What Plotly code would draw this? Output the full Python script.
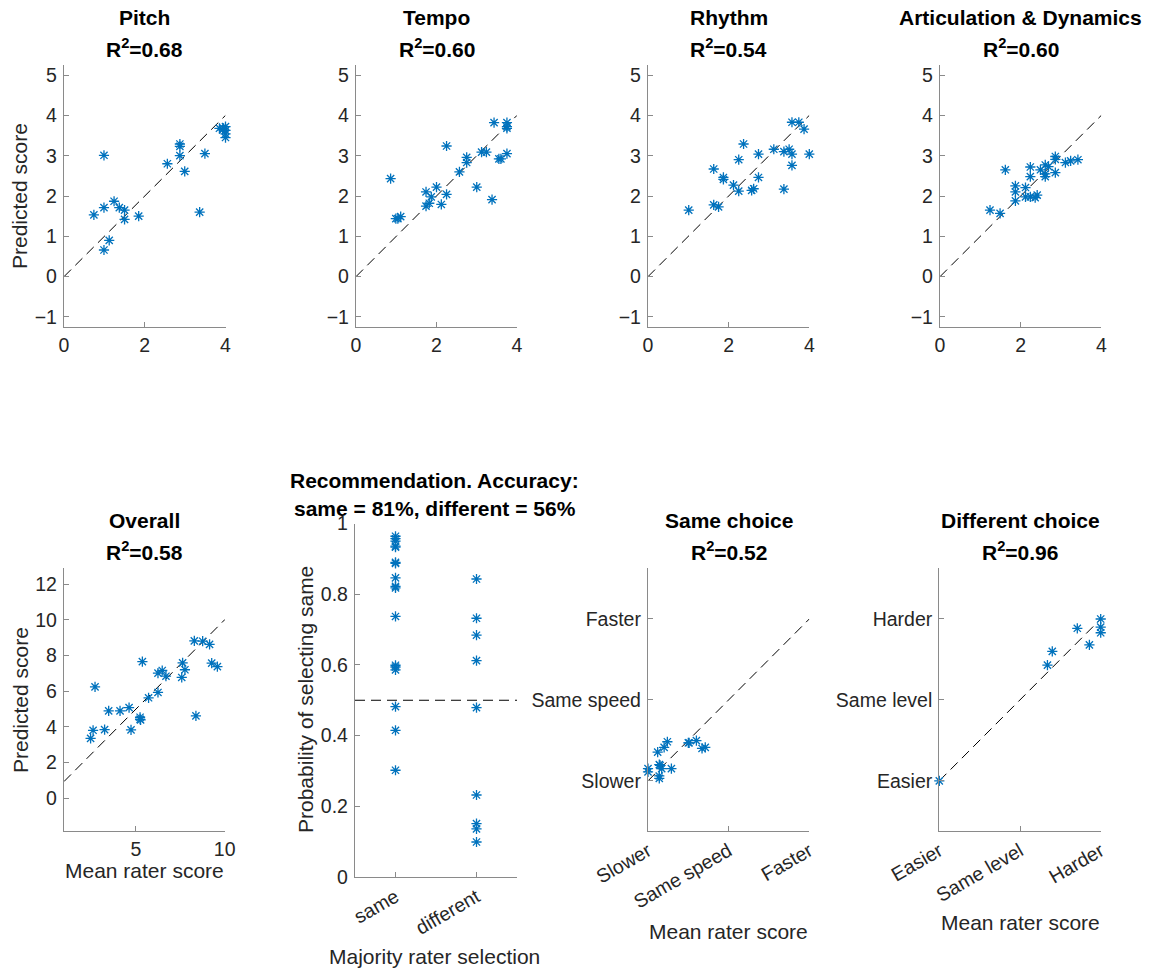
import plotly.graph_objects as go

# ---------------- data ----------------
pitch_x = [0.99, 0.74, 0.99, 1.24, 1.37, 1.50, 1.50, 1.85, 1.12, 0.99, 2.56, 2.87, 2.87, 2.87,
           2.99, 3.49, 3.36, 3.85, 3.95, 4.00, 4.00, 4.00, 3.93, 4.00]
pitch_y = [3.01, 1.53, 1.71, 1.87, 1.71, 1.65, 1.42, 1.50, 0.90, 0.66, 2.80, 3.29, 3.23, 3.00,
           2.61, 3.05, 1.60, 3.68, 3.68, 3.63, 3.54, 3.45, 3.64, 3.72]

tempo_x = [0.86, 0.99, 1.04, 1.11, 1.74, 1.74, 1.82, 1.87, 2.00, 2.12, 2.25, 2.25, 2.57, 2.75,
           2.75, 3.00, 3.12, 3.24, 3.38, 3.43, 3.55, 3.60, 3.75, 3.75, 3.75, 3.75]
tempo_y = [2.43, 1.44, 1.44, 1.49, 2.10, 1.75, 1.82, 1.98, 2.22, 1.79, 2.04, 3.24, 2.60, 2.83,
           2.96, 2.22, 3.09, 3.09, 1.91, 3.82, 2.92, 2.92, 3.82, 3.72, 3.68, 3.05]

rhythm_x = [1.01, 1.63, 1.63, 1.75, 1.87, 1.87, 2.12, 2.25, 2.25, 2.37, 2.57, 2.62, 2.74, 2.74,
            3.12, 3.37, 3.37, 3.50, 3.57, 3.57, 3.57, 3.74, 3.87, 4.00]
rhythm_y = [1.65, 2.67, 1.78, 1.73, 2.46, 2.41, 2.27, 2.90, 2.12, 3.29, 2.14, 2.18, 3.04, 2.46,
            3.16, 3.10, 2.17, 3.16, 3.04, 2.76, 3.83, 3.83, 3.66, 3.04]

artic_x = [1.24, 1.49, 1.62, 1.87, 1.87, 1.87, 2.12, 2.12, 2.24, 2.36, 2.41, 2.24, 2.24, 2.49,
           2.61, 2.69, 2.61, 2.61, 2.86, 2.86, 2.86, 3.11, 3.24, 3.42]
artic_y = [1.65, 1.57, 2.65, 2.25, 2.10, 1.88, 2.21, 1.98, 1.98, 1.96, 2.02, 2.72, 2.48, 2.65,
           2.77, 2.73, 2.55, 2.48, 2.58, 2.98, 2.91, 2.83, 2.87, 2.90]

overall_x = [2.44, 2.58, 2.69, 3.23, 3.46, 4.10, 4.61, 4.72, 5.23, 5.23, 5.26, 5.36, 5.71, 6.24,
             6.24, 6.48, 6.69, 7.58, 7.63, 7.76, 8.29, 8.38, 8.76, 9.15, 9.27, 9.59]
overall_y = [3.36, 3.81, 6.24, 3.85, 4.90, 4.90, 5.08, 3.83, 4.54, 4.43, 4.39, 7.66, 5.63, 5.93,
             7.01, 7.16, 6.84, 6.77, 7.59, 7.20, 8.82, 4.62, 8.80, 8.62, 7.57, 7.38]

rec_categories = ["same", "different"]
rec_same = [0.964, 0.957, 0.950, 0.936, 0.933, 0.890, 0.887, 0.846, 0.822, 0.818, 0.737,
            0.599, 0.594, 0.586, 0.482, 0.415, 0.302]
rec_diff = [0.843, 0.732, 0.684, 0.612, 0.479, 0.232, 0.151, 0.136, 0.099]

speed_labels = ["Slower", "Same speed", "Faster"]
speed_x = [-1.00, -1.00, -0.88, -0.86, -0.85, -0.83, -0.86, -0.86, -0.80, -0.76, -0.71,
           -0.50, -0.49, -0.40, -0.33, -0.29]
speed_y = [-0.85, -0.89, -0.645, -0.80, -0.81, -0.85, -0.94, -0.97, -0.587, -0.517, -0.85,
           -0.53, -0.53, -0.504, -0.60, -0.587]

level_labels = ["Easier", "Same level", "Harder"]
level_x = [-1.00, 0.34, 0.40, 0.71, 0.86, 1.00, 1.00, 1.00]
level_y = [-1.00, 0.43, 0.60, 0.885, 0.68, 1.00, 0.90, 0.83]

r2 = {"Pitch": "0.68", "Tempo": "0.60", "Rhythm": "0.54", "Articulation & Dynamics": "0.60",
      "Overall": "0.58", "Same choice": "0.52", "Different choice": "0.96"}

# ---------------- layout helpers ----------------
W, H = 1151, 970
def px(x):
    return x / W
def py(y):
    return 1 - y / H

FONT = "Liberation Sans, Arial, Helvetica, sans-serif"
BLUE = "#0072BD"
AXC = "#8a8a8a"
TXT = "#262626"
TICKFS = 19.5
LABFS = 21
TITFS = 21

fig = go.Figure()

# panel definitions: (x-left, x-right, y-top, y-bottom) in pixels
panels = [
    (64, 225.5, 65, 327),
    (356, 517, 65, 327),
    (648, 809.3, 65, 327),
    (940, 1101.3, 65, 327),
    (64, 225, 568, 831),
    (355, 517, 523.5, 877),
    (648, 809.3, 568, 831),
    (939.3, 1100.7, 568, 831),
]

top_xrange = [0, 4]
top_yrange = [-1.25, 5.25]
ov_xrange = [0.94, 10.02]
ov_yrange = [-1.83, 12.9]
ch_xrange = [-1, 1]
ch_yrange = [-1.62, 1.63]

def axis_common(standoff):
    return dict(showgrid=False, zeroline=False, showline=True, linecolor=AXC, linewidth=1.3,
                ticks="inside", ticklen=5, tickcolor=AXC, tickwidth=1, automargin=False,
                ticklabelstandoff=standoff,
                tickfont=dict(family=FONT, size=TICKFS, color=TXT), mirror=False)

layout_axes = {}
for i, (x0, x1, yt, yb) in enumerate(panels, start=1):
    xn = "xaxis" if i == 1 else f"xaxis{i}"
    yn = "yaxis" if i == 1 else f"yaxis{i}"
    xa = axis_common(0)
    ya = axis_common(2)
    xa.update(domain=[px(x0), px(x1)], anchor=("y" if i == 1 else f"y{i}"))
    ya.update(domain=[py(yb), py(yt)], anchor=("x" if i == 1 else f"x{i}"))
    layout_axes[xn] = xa
    layout_axes[yn] = ya

# ranges / ticks
for i in range(1, 5):
    xn = "xaxis" if i == 1 else f"xaxis{i}"
    yn = "yaxis" if i == 1 else f"yaxis{i}"
    layout_axes[xn].update(range=top_xrange, tickvals=[0, 2, 4])
    layout_axes[yn].update(range=top_yrange, tickvals=[-1, 0, 1, 2, 3, 4, 5])

layout_axes["xaxis5"].update(range=ov_xrange, tickvals=[5, 10])
layout_axes["yaxis5"].update(range=ov_yrange, tickvals=[0, 2, 4, 6, 8, 10, 12])

layout_axes["xaxis6"].update(type="category", range=[-0.5, 1.5], categoryorder="array",
                             categoryarray=rec_categories, tickangle=-30)
layout_axes["yaxis6"].update(range=[0, 1], tickvals=[0, 0.2, 0.4, 0.6, 0.8, 1],
                             ticktext=["0", "0.2", "0.4", "0.6", "0.8", "1"])

layout_axes["xaxis7"].update(range=ch_xrange, tickvals=[-1, 0, 1], ticktext=speed_labels, tickangle=-30)
layout_axes["yaxis7"].update(range=ch_yrange, tickvals=[-1, 0, 1], ticktext=speed_labels)
layout_axes["xaxis8"].update(range=ch_xrange, tickvals=[-1, 0, 1], ticktext=level_labels, tickangle=-30)
layout_axes["yaxis8"].update(range=ch_yrange, tickvals=[-1, 0, 1], ticktext=level_labels)

# ---------------- traces ----------------
marker = dict(symbol="asterisk-open", size=8.5, color=BLUE, line=dict(color=BLUE, width=1.3))
series = [
    (pitch_x, pitch_y), (tempo_x, tempo_y), (rhythm_x, rhythm_y), (artic_x, artic_y),
    (overall_x, overall_y),
]
for i, (sx, sy) in enumerate(series, start=1):
    fig.add_trace(go.Scatter(x=sx, y=sy, mode="markers", marker=marker, showlegend=False,
                             xaxis=("x" if i == 1 else f"x{i}"), yaxis=("y" if i == 1 else f"y{i}"),
                             cliponaxis=False))

fig.add_trace(go.Scatter(x=[rec_categories[0]] * len(rec_same) + [rec_categories[1]] * len(rec_diff),
                         y=rec_same + rec_diff, mode="markers", marker=marker, showlegend=False,
                         xaxis="x6", yaxis="y6", cliponaxis=False))
fig.add_trace(go.Scatter(x=speed_x, y=speed_y, mode="markers", marker=marker, showlegend=False,
                         xaxis="x7", yaxis="y7", cliponaxis=False))
fig.add_trace(go.Scatter(x=level_x, y=level_y, mode="markers", marker=marker, showlegend=False,
                         xaxis="x8", yaxis="y8", cliponaxis=False))

# ---------------- reference lines ----------------
dash = "10px,6px"
shapes = []
def identity(xr, xref, yref):
    lo, hi = xr
    shapes.append(dict(type="line", xref=xref, yref=yref, x0=lo, y0=lo, x1=hi, y1=hi,
                       line=dict(color="black", width=1, dash=dash), layer="below"))
for i in range(1, 5):
    identity(top_xrange, "x" if i == 1 else f"x{i}", "y" if i == 1 else f"y{i}")
identity(ov_xrange, "x5", "y5")
identity(ch_xrange, "x7", "y7")
identity(ch_xrange, "x8", "y8")
shapes.append(dict(type="line", xref="x6 domain", yref="y6", x0=0, x1=1, y0=0.5, y1=0.5,
                   line=dict(color="black", width=1, dash=dash), layer="below"))

# ---------------- titles & labels ----------------
ann = []
def text(x, y, s, size, bold=False, angle=0, color="black"):
    ann.append(dict(x=px(x), y=py(y), xref="paper", yref="paper", text=(f"<b>{s}</b>" if bold else s),
                    showarrow=False, xanchor="center", yanchor="middle", textangle=angle,
                    font=dict(family=FONT, size=size, color=color)))

centers = [(p[0] + p[1]) / 2 for p in panels]
top_titles = ["Pitch", "Tempo", "Rhythm", "Articulation & Dynamics"]
for c, t in zip(centers[:4], top_titles):
    text(c, 17, t, TITFS, bold=True)
    text(c, 48, f"R<sup>2</sup>=" + r2[t], TITFS, bold=True)

for idx, t in [(4, "Overall"), (6, "Same choice"), (7, "Different choice")]:
    text(centers[idx], 520, t, TITFS, bold=True)
    text(centers[idx], 551, f"R<sup>2</sup>=" + r2[t], TITFS, bold=True)

text(434.5, 480, "Recommendation. Accuracy:", TITFS, bold=True)
text(434.5, 508, "same = 81%, different = 56%", TITFS, bold=True)

text(20, 196, "Predicted score", LABFS, angle=-90, color=TXT)
text(20, 700, "Predicted score", LABFS, angle=-90, color=TXT)
text(305, 700, "Probability of selecting same", LABFS, angle=-90, color=TXT)
text(centers[4], 870, "Mean rater score", LABFS, color=TXT)
text(434, 956, "Majority rater selection", LABFS, color=TXT)
text(centers[6], 931, "Mean rater score", LABFS, color=TXT)
text(centers[7], 922, "Mean rater score", LABFS, color=TXT)

fig.update_layout(width=W, height=H, margin=dict(l=0, r=0, t=0, b=0),
                  paper_bgcolor="white", plot_bgcolor="white",
                  shapes=shapes, annotations=ann, **layout_axes)

fig.write_html("out.html")
